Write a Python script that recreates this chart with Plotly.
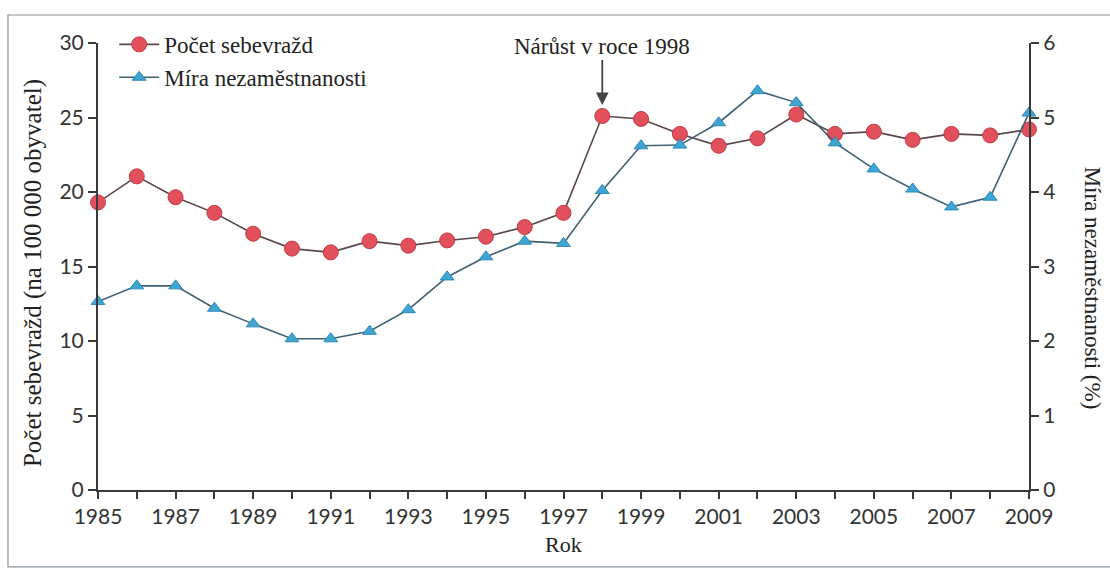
import plotly.graph_objects as go

years = list(range(1985, 2010))
suicides = [19.3, 21.05, 19.65, 18.6, 17.2, 16.2, 15.95, 16.7, 16.4, 16.75, 17.0, 17.65, 18.6,
            25.1, 24.9, 23.9, 23.1, 23.6, 25.2, 23.9, 24.05, 23.5, 23.9, 23.8, 24.2]
unemployment = [2.53, 2.74, 2.74, 2.44, 2.23, 2.03, 2.03, 2.13, 2.42, 2.86, 3.13, 3.34, 3.31,
                4.02, 4.62, 4.63, 4.93, 5.36, 5.2, 4.66, 4.31, 4.04, 3.8, 3.93, 5.06]

name_suicides = "Počet sebevražd"
name_unemp = "Míra nezaměstnanosti"
title_left = "Počet sebevražd (na 100 000 obyvatel)"
title_right = "Míra nezaměstnanosti (%)"
title_x = "Rok"
annot_text = "Nárůst v roce 1998"

SERIF = "Liberation Serif, Times New Roman, serif"
SANS = "Lato, Open Sans, sans-serif"
AX = "#3a3a3a"

fig = go.Figure()
fig.add_trace(go.Scatter(
    x=years, y=suicides, name=name_suicides, mode="lines+markers",
    line=dict(color="#5a4548", width=1.6),
    marker=dict(symbol="circle", size=15, color="#e2505c", line=dict(color="#c23a46", width=1)),
    cliponaxis=False, yaxis="y"))
fig.add_trace(go.Scatter(
    x=years, y=unemployment, name=name_unemp, mode="lines+markers",
    line=dict(color="#3f5f72", width=1.6),
    marker=dict(symbol="triangle-up", size=12, color="#3fa6d4", line=dict(color="#2d88b4", width=1)),
    cliponaxis=False, yaxis="y2"))

fig.update_layout(
    width=1110, height=570,
    margin=dict(l=98, r=81, t=43, b=80),
    paper_bgcolor="white", plot_bgcolor="white",
    showlegend=True,
    legend=dict(x=0.0174, y=1.045, xanchor="left", yanchor="top",
                font=dict(family=SERIF, size=23, color="#222"),
                bgcolor="rgba(0,0,0,0)", tracegroupgap=0, itemwidth=40),
    xaxis=dict(range=[1985, 2009], tick0=1985, dtick=2, showgrid=False, zeroline=False,
               showline=True, linecolor=AX, linewidth=2,
               ticks="outside", ticklen=7, tickwidth=2, tickcolor=AX,
               minor=dict(dtick=1, ticks="outside", ticklen=7, tickwidth=2, tickcolor=AX),
               tickfont=dict(family=SANS, size=21, color="#333")),
    yaxis=dict(range=[0, 30], dtick=5, showgrid=False, zeroline=False,
               showline=True, linecolor=AX, linewidth=2,
               ticks="outside", ticklen=8, tickwidth=2, tickcolor=AX,
               tickfont=dict(family=SANS, size=21, color="#333")),
    yaxis2=dict(range=[0, 6], dtick=1, overlaying="y", side="right", showgrid=False, zeroline=False,
                showline=True, linecolor=AX, linewidth=2,
                ticks="outside", ticklen=8, tickwidth=2, tickcolor=AX,
                tickfont=dict(family=SANS, size=21, color="#333")),
    shapes=[dict(type="rect", xref="paper", yref="paper",
                 x0=-0.0967, x1=1.1, y0=-0.172, y1=1.0626,
                 line=dict(color="#8a939e", width=1.2), layer="below")],
    annotations=[
        dict(text=title_left, xref="paper", yref="paper", x=-0.07, y=0.485, textangle=-90,
             xanchor="center", yanchor="middle",
             showarrow=False, font=dict(family=SERIF, size=25, color="#222")),
        dict(text=title_right, xref="paper", yref="paper", x=1.068, y=0.452, textangle=90,
             xanchor="center", yanchor="middle",
             showarrow=False, font=dict(family=SERIF, size=23, color="#222")),
        dict(text=title_x, xref="paper", yref="paper", x=0.4995, y=-0.123,
             xanchor="center", yanchor="middle",
             showarrow=False, font=dict(family=SERIF, size=22, color="#222")),
        dict(text=annot_text, x=1998, y=suicides[13], xref="x", yref="y",
             ax=0, ay=-70, showarrow=True, arrowhead=2, arrowsize=1.4, arrowwidth=1.8,
             arrowcolor="#444", standoff=11,
             font=dict(family=SERIF, size=23, color="#222")),
    ],
)

fig.write_html("out.html", config={"displayModeBar": False},
               post_script="document.body.style.margin='0';")
